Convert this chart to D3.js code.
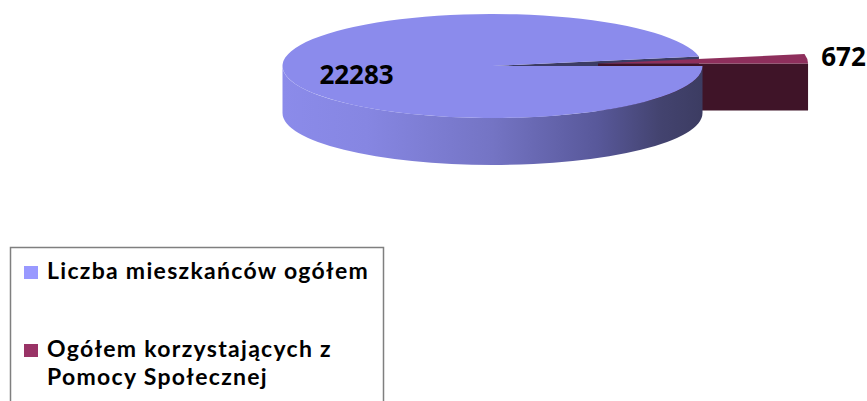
<!DOCTYPE html>
<html>
<head>
<meta charset="utf-8">
<script src="https://cdn.jsdelivr.net/npm/d3@7"></script>
<style>
  body { margin: 0; background: #fff; }
  text { font-family: "Open Sans", Lato, sans-serif; font-weight: bold; }
  .leg text { font-family: Lato, "Open Sans", sans-serif; letter-spacing: 1.3px; }
</style>
</head>
<body>
<svg id="chart" width="867" height="401"></svg>
<script>
// data
var categories = ["Liczba mieszkańców ogółem", "Ogółem korzystających z Pomocy Społecznej"];
var values = [22283, 672];

// look of the pie
var topColors = ["#8b8bec", "#8e2f5c"];
var wallColors = ["#3c3c64", "#3f1428"];
var swatchColors = ["#9999ff", "#993366"];

var cx = 492.5, cy = 66, rx = 210, ry = 52, depth = 47;
var explode = [0, 106];

var svg = d3.select("#chart");

var defs = svg.append("defs");
var grad = defs.append("linearGradient").attr("id", "sideGrad")
  .attr("x1", "0").attr("x2", "1").attr("y1", "0").attr("y2", "0");
[[0, "#8b8bea"], [0.2, "#8686e2"], [0.5, "#7474c4"], [0.75, "#58589a"], [0.9, "#43436f"], [1, "#3c3c62"]]
  .forEach(function(s) { grad.append("stop").attr("offset", s[0]).attr("stop-color", s[1]); });

var pie = d3.pie().sort(null)
  .startAngle(Math.PI / 2)
  .endAngle(Math.PI / 2 + 2 * Math.PI);

var TAU = 2 * Math.PI;

// turn d3 angles (clockwise from top) into math angles (counter clockwise from 3 o'clock)
var slices = pie(values).map(function(d, i) {
  var t1 = Math.PI / 2 - d.endAngle;
  var t2 = Math.PI / 2 - d.startAngle;
  var span = t2 - t1;
  t1 = ((t1 % TAU) + TAU) % TAU;
  var mid = t1 + span / 2;
  return {
    i: i, value: d.value, t1: t1, t2: t1 + span, mid: mid,
    ox: explode[i] * Math.cos(mid),
    oy: -explode[i] * (ry / rx) * Math.sin(mid)
  };
});

function pt(s, t, r, dz) {
  r = r === undefined ? 1 : r;
  dz = dz || 0;
  return [cx + s.ox + r * rx * Math.cos(t), cy + s.oy - r * ry * Math.sin(t) + dz];
}

function topPath(s) {
  var c = pt(s, 0, 0), a = pt(s, s.t1), b = pt(s, s.t2);
  var large = (s.t2 - s.t1) > Math.PI ? 1 : 0;
  return "M" + c + "L" + a + "A" + rx + "," + ry + " 0 " + large + " 0 " + b + "Z";
}

function radialPath(s, t) {
  var c = pt(s, 0, 0), a = pt(s, t), a2 = pt(s, t, 1, depth), c2 = pt(s, 0, 0, depth);
  return "M" + c + "L" + a + "L" + a2 + "L" + c2 + "Z";
}

function outerPath(s, a, b) {
  var p1 = pt(s, a), p2 = pt(s, b), p3 = pt(s, b, 1, depth), p4 = pt(s, a, 1, depth);
  return "M" + p1 + "A" + rx + "," + ry + " 0 0 0 " + p2 + "L" + p3 +
    "A" + rx + "," + ry + " 0 0 1 " + p4 + "Z";
}

// visible radial walls are those whose face points to the front
var g = svg.append("g");
var lav = slices[0], mar = slices[1];

g.append("path").attr("d", radialPath(lav, lav.t1)).attr("fill", wallColors[0]);
g.append("path").attr("d", radialPath(mar, mar.t1)).attr("fill", wallColors[1]);
g.append("path").attr("d", topPath(mar)).attr("fill", topColors[1]);

// front half of the rim
slices.forEach(function(s) {
  [[Math.PI, TAU], [3 * Math.PI, 2 * TAU]].forEach(function(w) {
    var a = Math.max(s.t1, w[0]), b = Math.min(s.t2, w[1]);
    if (b > a) {
      g.append("path").attr("d", outerPath(s, a, b))
        .attr("fill", s.i === 0 ? "url(#sideGrad)" : wallColors[s.i]);
    }
  });
});
g.append("path").attr("d", topPath(lav)).attr("fill", topColors[0]);

// value labels
var p0 = pt(lav, lav.mid, 0.65);
svg.append("text").attr("x", p0[0]).attr("y", p0[1] + 15)
  .attr("text-anchor", "middle").attr("font-size", 26).attr("fill", "#000")
  .text(d3.format("d")(lav.value));

var p1 = pt(mar, mar.mid, 1);
svg.append("text").attr("x", p1[0] + 14).attr("y", p1[1] + 7)
  .attr("font-size", 26).attr("fill", "#000")
  .text(d3.format("d")(mar.value));

// legend
var legend = svg.append("g").attr("class", "leg");
legend.append("rect").attr("x", 10.5).attr("y", 247.5).attr("width", 373).attr("height", 170)
  .attr("fill", "#fff").attr("stroke", "#7f7f7f").attr("stroke-width", 1.5);

var rowY = [279, 357];
var lineH = 28;
categories.forEach(function(name, i) {
  legend.append("rect").attr("x", 24).attr("y", rowY[i] - 13).attr("width", 14).attr("height", 13)
    .attr("fill", swatchColors[i]);
  // wrap words onto lines no wider than the box allows, one text per line
  var words = name.split(" "), line = [], y = rowY[i];
  var txt = legend.append("text").attr("x", 47).attr("y", y)
    .attr("font-size", 23).attr("fill", "#000");
  words.forEach(function(w) {
    line.push(w);
    txt.text(line.join(" "));
    if (txt.node().getComputedTextLength() > 330 && line.length > 1) {
      line.pop();
      txt.text(line.join(" "));
      line = [w];
      y += lineH;
      txt = legend.append("text").attr("x", 47).attr("y", y)
        .attr("font-size", 23).attr("fill", "#000").text(w);
    }
  });
});
</script>
</body>
</html>
